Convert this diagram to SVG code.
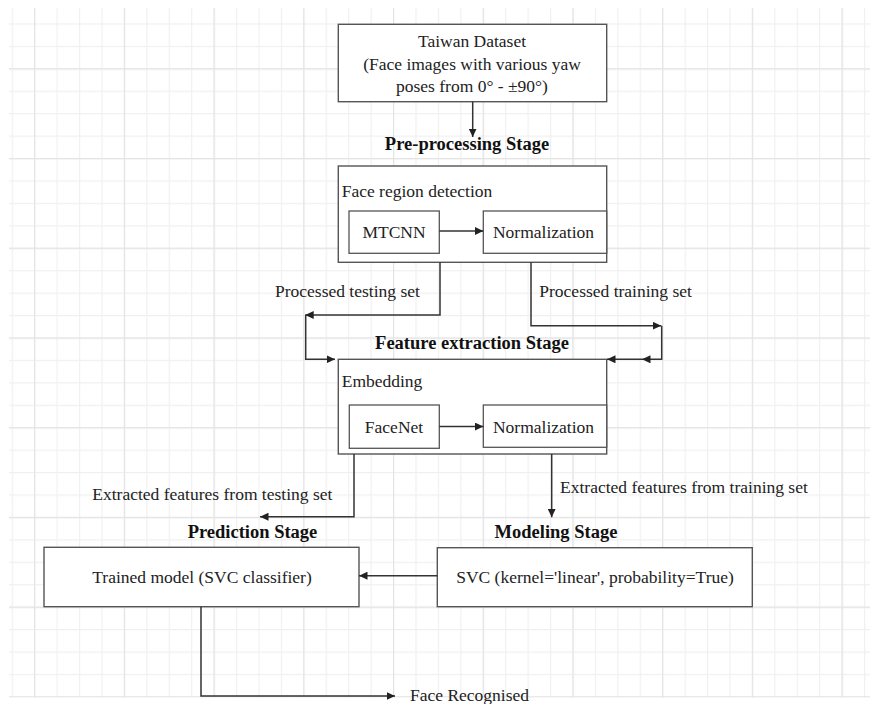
<svg xmlns="http://www.w3.org/2000/svg" width="870" height="704" viewBox="0 0 870 704">
<style>
  .box{fill:#fff;stroke:#555;stroke-width:1.4}
  .ibox{fill:#fff;stroke:#555;stroke-width:1.3}
  .t{font-family:"Liberation Serif","Times New Roman",serif;font-size:17.5px;fill:#222}
  .b{font-family:"Liberation Serif","Times New Roman",serif;font-size:18.5px;font-weight:bold;fill:#111}
  .c{text-anchor:middle}
  .con{fill:none;stroke:#333;stroke-width:1.5;marker-end:url(#ah)}
</style>
<defs>
  <marker id="ah" markerUnits="userSpaceOnUse" markerWidth="9" markerHeight="8" refX="8.5" refY="4" orient="auto">
    <path d="M0,0 L8.5,4 L0,8 Z" fill="#222"/>
  </marker>
  <pattern id="gminor" patternUnits="userSpaceOnUse" x="11.67" y="0.97" width="22.43" height="22.43">
    <path d="M0.6,0 V22.43 M0,0.6 H22.43" stroke="#f0f0f0" stroke-width="1.2" fill="none"/>
  </pattern>
  <pattern id="gmajor" patternUnits="userSpaceOnUse" x="34.1" y="68.26" width="89.72" height="89.72">
    <path d="M0.6,0 V89.72 M0,0.6 H89.72" stroke="#e4e4e4" stroke-width="1.2" fill="none"/>
  </pattern>
</defs>
<rect width="870" height="704" fill="#fff"/>
<g id="grid">
  <rect x="9" y="8" width="861" height="689.5" fill="url(#gminor)"/>
  <rect x="9" y="8" width="861" height="689.5" fill="url(#gmajor)"/>
</g>

<g id="dataset">
  <rect class="box" x="338.3" y="24.3" width="268.4" height="77.4"/>
  <text class="t c" x="472" y="46.7">Taiwan Dataset</text>
  <text class="t c" x="472" y="70">(Face images with various yaw</text>
  <text class="t c" x="472" y="91.7">poses from 0° - ±90°)</text>
</g>

<g id="preprocessing">
  <text class="b c" x="467" y="150">Pre-processing Stage</text>
  <rect class="box" x="338.3" y="166" width="268.4" height="96.3"/>
  <text class="t" x="341.7" y="196.7">Face region detection</text>
</g>
<g id="mtcnn">
  <rect class="ibox" x="349" y="211" width="90.3" height="42.3"/>
  <text class="t c" x="394" y="237.5">MTCNN</text>
</g>
<g id="normalization1">
  <rect class="ibox" x="483.3" y="211" width="123.4" height="42.3"/>
  <text class="t c" x="543.5" y="237.5">Normalization</text>
</g>

<g id="feature">
  <text class="b c" x="472" y="349.3">Feature extraction Stage</text>
  <rect class="box" x="338.3" y="359.3" width="268.4" height="94.7"/>
  <text class="t" x="341.7" y="387.3">Embedding</text>
</g>
<g id="facenet">
  <rect class="ibox" x="349.3" y="405" width="90" height="43.3"/>
  <text class="t c" x="394" y="432.7">FaceNet</text>
</g>
<g id="normalization2">
  <rect class="ibox" x="483.3" y="405" width="123.4" height="42.3"/>
  <text class="t c" x="543.5" y="432.7">Normalization</text>
</g>

<g id="prediction">
  <text class="b c" x="252.5" y="538.3">Prediction Stage</text>
  <rect class="box" x="44" y="547.3" width="315" height="59.4"/>
  <text class="t c" x="202" y="582.7">Trained model (SVC classifier)</text>
</g>

<g id="modeling">
  <text class="b c" x="556" y="538.3">Modeling Stage</text>
  <rect class="box" x="437.3" y="547.7" width="315" height="59"/>
  <text class="t c" x="595" y="582.7">SVC (kernel='linear', probability=True)</text>
</g>

<g id="result">
  <text class="t" x="410" y="700.5">Face Recognised</text>
</g>

<g id="connectors">
  <path class="con" d="M472.7,101.7 V137"/>
  <path class="con" d="M439.3,231 H483.3"/>
  <path class="con" d="M439.3,426.5 H483.3"/>
  <path class="con" d="M440,262.3 V315 H305.2"/>
  <path class="con" d="M305.7,315 V359.3 H335"/>
  <path class="con" d="M531,262.3 V325.7 H661.2"/>
  <path class="con" d="M661.7,325.7 V359.3 H642"/>
  <path class="con" d="M642,359.3 H607"/>
  <path class="con" d="M354,454 V516.7 H260"/>
  <path class="con" d="M551.7,454 V517.3"/>
  <path class="con" d="M437.3,575.7 H359"/>
  <path class="con" d="M201,606.7 V696 H395"/>
  <text class="t" x="275" y="296.7">Processed testing set</text>
  <text class="t" x="539.3" y="297.3">Processed training set</text>
  <text class="t" x="92.3" y="500">Extracted features from testing set</text>
  <text class="t" x="560" y="492.7">Extracted features from training set</text>
</g>
</svg>
